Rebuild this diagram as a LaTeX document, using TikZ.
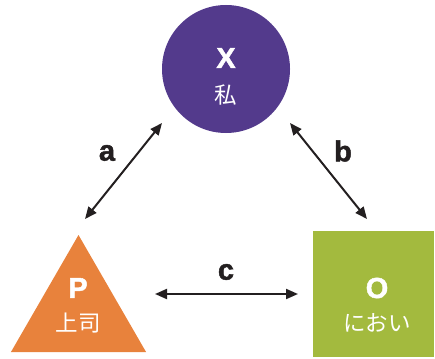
\documentclass[tikz,border=0pt]{standalone}
\usepackage{fontspec}
\setmainfont{Liberation Sans}
\newfontfamily\heavyfont{Liberation Sans}[BoldFeatures={FakeBold=1.6}]
\newfontfamily\jpfont{Noto Sans CJK JP}
\usetikzlibrary{shapes.geometric,arrows.meta}
\definecolor{cpurple}{HTML}{533A8C}
\definecolor{corange}{HTML}{E8823C}
\definecolor{cgreen}{HTML}{A3BA3E}
\definecolor{carrow}{HTML}{231F20}
\tikzset{
  bigletter/.style={text=white,font=\heavyfont\fontsize{29}{30}\selectfont\bfseries,inner sep=0pt},
  jptext/.style={text=white,font=\jpfont\fontsize{22.5}{23}\selectfont,inner sep=0pt},
  edgelabel/.style={text=carrow,font=\heavyfont\fontsize{29}{30}\selectfont\bfseries,inner sep=0pt},
  biarrow/.style={carrow,line width=2pt,{Triangle[length=12pt,width=10pt]}-{Triangle[length=12pt,width=10pt]}}
}
\begin{document}
\begin{tikzpicture}[x=1pt,y=-1pt]
\useasboundingbox (0,0) rectangle (435,358);
% nodes
\node[circle,fill=cpurple,minimum size=128pt,inner sep=0pt] (X) at (226,69) {};
\node[regular polygon,regular polygon sides=3,fill=corange,minimum size=156pt,inner sep=0pt] (P) at (78.5,313) {};
\node[rectangle,fill=cgreen,minimum width=121pt,minimum height=126pt,inner sep=0pt,anchor=north west] (O) at (313,231) {};
% texts
\node[bigletter] (Xl) at (226,58) {X};
\node[jptext] (Xj) at (226,95) {私};
\node[bigletter] (Pl) at (78,288) {P};
\node[jptext] (Pj) at (78,323) {上司};
\node[bigletter] (Ol) at (377,288) {O};
\node[jptext] (Oj) at (377,323) {におい};
% arrow endpoints
\coordinate (a1) at (162,123);
\coordinate (a2) at (85,219);
\coordinate (b1) at (290,123);
\coordinate (b2) at (367,219);
\coordinate (c1) at (155,294);
\coordinate (c2) at (298,294);
\draw[biarrow] (a1) -- (a2);
\draw[biarrow] (b1) -- (b2);
\draw[biarrow] (c1) -- (c2);
% edge labels
\node[edgelabel] (la) at (107,153) {a};
\node[edgelabel] (lb) at (343,151) {b};
\node[edgelabel] (lc) at (226,272) {c};
\end{tikzpicture}
\end{document}
